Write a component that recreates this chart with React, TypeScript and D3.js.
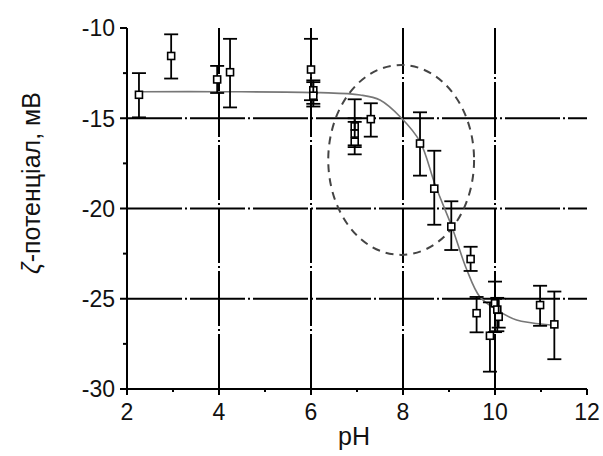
import React from "react";
import * as d3 from "d3";

const pH = [2.26, 2.96, 3.96, 4.24, 6.0, 6.05, 6.05, 6.95, 6.95, 6.95, 7.3, 8.37, 8.68, 9.05, 9.47, 9.6, 9.89, 10.0, 10.05, 10.08, 10.98, 11.29];
const zeta = [-13.7, -11.55, -12.85, -12.45, -12.3, -13.45, -13.75, -15.45, -15.85, -16.3, -15.05, -16.4, -18.9, -21.0, -22.8, -25.8, -27.05, -25.25, -25.6, -26.0, -25.35, -26.42];
const errTop = [-12.5, -10.35, -12.1, -10.6, -10.6, -12.9, -13.0, -13.95, -15.0, -15.2, -14.17, -14.67, -16.8, -19.6, -22.12, -24.9, -25.2, -24.05, -24.95, -25.0, -24.28, -24.6];
const errBottom = [-14.95, -12.8, -13.6, -14.4, -14.0, -14.35, -14.2, -16.5, -16.6, -17.0, -16.02, -18.18, -20.9, -22.3, -23.46, -26.86, -29.04, -26.85, -26.8, -26.6, -26.5, -28.35];

const fitX = [2.3, 4, 6.2, 7.07, 7.5, 7.97, 8.37, 8.7, 9.06, 9.38, 9.67, 10.04, 10.47, 11.2, 11.3];
const fitY = [-13.53, -13.53, -13.58, -13.71, -13.99, -15.0, -16.3, -18.7, -21.0, -23.35, -24.89, -25.62, -26.18, -26.45, -26.47];

const xTicks = [2, 4, 6, 8, 10, 12];
const yTicks = [-30, -25, -20, -15, -10];
const xGrid = [4, 6, 8, 10];
const yGrid = [-25, -20, -15];
const xMinor = [3, 5, 7, 9, 11];
const yMinor = [-27.5, -22.5, -17.5, -12.5];

const ellipseCenter = [7.96, -17.31];
const ellipseRadii = [1.585, 5.26];

const W = 603, H = 456;
const M = { left: 127, right: 16, top: 28, bottom: 67 };

export default function App() {
  const x = d3.scaleLinear().domain([2, 12]).range([M.left, W - M.right]);
  const y = d3.scaleLinear().domain([-30, -10]).range([H - M.bottom, M.top]);
  const line = d3.line<number>().x((_, i) => x(fitX[i])).y((_, i) => y(fitY[i])).curve(d3.curveCatmullRom);
  const fitPath = line(fitX) || "";
  const gridDash = "55,3,2,3";
  const font = "Arial, 'Liberation Sans', Helvetica, sans-serif";
  const sq = 7;
  const cap = 7;
  return (
    <svg width={W} height={H} style={{ position: "absolute", left: 0, top: 0, background: "#fff" }} fontFamily={font}>
      {xGrid.map((v) => (
        <line key={"gx" + v} x1={x(v)} x2={x(v)} y1={y(-30)} y2={y(-10)} stroke="#000" strokeWidth={2} strokeDasharray={gridDash} />
      ))}
      {yGrid.map((v) => (
        <line key={"gy" + v} x1={x(2)} x2={x(12)} y1={y(v)} y2={y(v)} stroke="#000" strokeWidth={2} strokeDasharray={gridDash} />
      ))}
      <ellipse
        cx={x(ellipseCenter[0])}
        cy={y(ellipseCenter[1])}
        rx={x(ellipseCenter[0] + ellipseRadii[0]) - x(ellipseCenter[0])}
        ry={y(ellipseCenter[1]) - y(ellipseCenter[1] + ellipseRadii[1])}
        fill="none"
        stroke="#444"
        strokeWidth={2}
        strokeDasharray="8,6"
      />
      <path d={fitPath} fill="none" stroke="#777" strokeWidth={1.6} />
      {pH.map((v, i) => (
        <g key={"p" + i} stroke="#000" strokeWidth={1.8} fill="none">
          <line x1={x(v)} x2={x(v)} y1={y(errTop[i])} y2={y(errBottom[i])} />
          <line x1={x(v) - cap} x2={x(v) + cap} y1={y(errTop[i])} y2={y(errTop[i])} />
          <line x1={x(v) - cap} x2={x(v) + cap} y1={y(errBottom[i])} y2={y(errBottom[i])} />
          <rect x={x(v) - sq / 2} y={y(zeta[i]) - sq / 2} width={sq} height={sq} fill="#fff" strokeWidth={1.6} />
        </g>
      ))}
      <line x1={x(2)} x2={x(2)} y1={y(-30)} y2={y(-10)} stroke="#000" strokeWidth={2} />
      <line x1={x(2)} x2={x(12)} y1={y(-30)} y2={y(-30)} stroke="#000" strokeWidth={2} />
      {yTicks.map((v) => (
        <g key={"yt" + v}>
          <line x1={x(2) - 7} x2={x(2)} y1={y(v)} y2={y(v)} stroke="#000" strokeWidth={2} />
          <text x={x(2) - 12} y={y(v)} dy="0.36em" textAnchor="end" fontSize={23} fill="#111">{v}</text>
        </g>
      ))}
      {yMinor.map((v) => (
        <line key={"ym" + v} x1={x(2) - 4} x2={x(2)} y1={y(v)} y2={y(v)} stroke="#000" strokeWidth={2} />
      ))}
      {xTicks.map((v) => (
        <g key={"xt" + v}>
          <line x1={x(v)} x2={x(v)} y1={y(-30)} y2={y(-30) + 6} stroke="#000" strokeWidth={2} />
          <text x={x(v)} y={y(-30) + 31} textAnchor="middle" fontSize={23} fill="#111">{v}</text>
        </g>
      ))}
      {xMinor.map((v) => (
        <line key={"xm" + v} x1={x(v)} x2={x(v)} y1={y(-30)} y2={y(-30) + 3} stroke="#000" strokeWidth={2} />
      ))}
      <text x={354} y={445} textAnchor="middle" fontSize={25} fill="#111">pH</text>
      <text transform="translate(40,183) rotate(-90)" textAnchor="middle" fontSize={25} fill="#111">
        <tspan fontStyle="italic">ζ</tspan>-потенціал, мВ
      </text>
    </svg>
  );
}
